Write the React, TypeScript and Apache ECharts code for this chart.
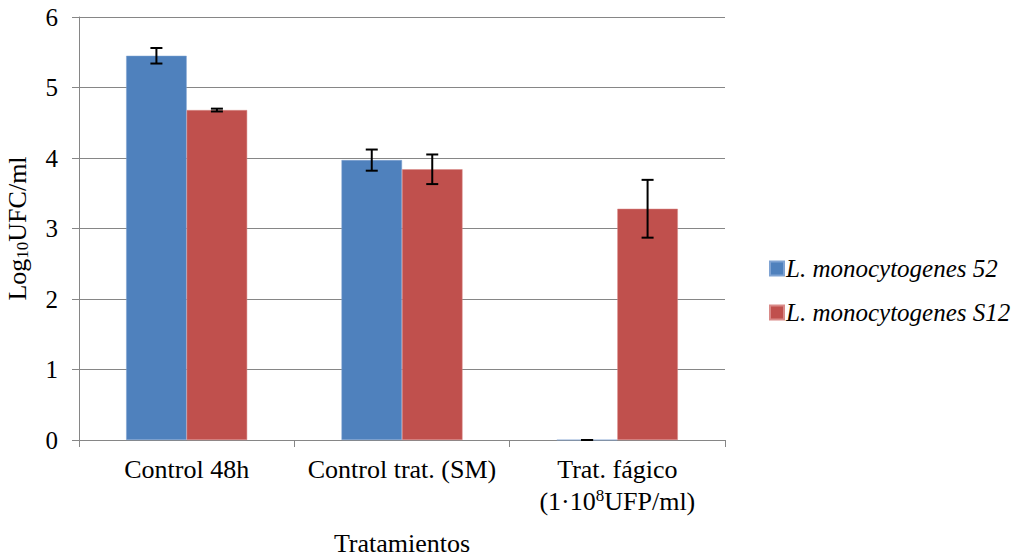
import React, { useEffect, useRef } from "react";
import * as echarts from "echarts";

const categories = ["Control 48h", "Control trat. (SM)", "Trat. fágico\n(1·10{sup|8}UFP/ml)"];
const seriesNames = ["L. monocytogenes 52", "L. monocytogenes S12"];
const values52 = [5.45, 3.97, 0];
const valuesS12 = [4.68, 3.84, 3.28];
const err52 = [0.11, 0.15, 0];
const errS12 = [0.02, 0.21, 0.41];
const colors = ["#4F81BD", "#C0504D"];

const FONT = "Liberation Serif";
const FS = 25;
const BAR_W = 60.5;

export default function App() {
  const ref = useRef<HTMLDivElement>(null);
  useEffect(() => {
    if (!ref.current) return;
    const chart = echarts.init(ref.current, null, { renderer: "svg" });

    const errData = (vals: number[], errs: number[]) =>
      vals.map((v, i) => [i, v - errs[i], v + errs[i]]);

    const makeErr = (vals: number[], errs: number[], offsetSign: number) => ({
      type: "custom",
      name: "err" + offsetSign,
      data: errData(vals, errs),
      z: 10,
      silent: true,
      encode: { x: 0, y: [1, 2] },
      renderItem: (params: any, api: any) => {
        const idx = api.value(0);
        const lo = api.coord([idx, api.value(1)]);
        const hi = api.coord([idx, api.value(2)]);
        const x = lo[0] + (offsetSign * BAR_W) / 2;
        const cap = 6;
        const style = { stroke: "#000", lineWidth: 2 };
        return {
          type: "group",
          children: [
            { type: "line", shape: { x1: x, y1: lo[1], x2: x, y2: hi[1] }, style },
            { type: "line", shape: { x1: x - cap, y1: lo[1], x2: x + cap, y2: lo[1] }, style },
            { type: "line", shape: { x1: x - cap, y1: hi[1], x2: x + cap, y2: hi[1] }, style },
          ],
        };
      },
    });

    chart.setOption({
      animation: false,
      backgroundColor: "#fff",
      textStyle: { fontFamily: FONT, color: "#000" },
      grid: { left: 79, right: 303, top: 17, bottom: 116, containLabel: false, outerBoundsMode: "none" },
      legend: {
        orient: "vertical",
        left: 764,
        top: 251,
        itemGap: 19,
        itemWidth: 14,
        itemHeight: 14,
        icon: "rect",
        data: seriesNames,
        textStyle: { fontFamily: FONT, fontSize: 25, fontStyle: "italic", color: "#000", padding: [0, 0, 0, -3] },
      },
      xAxis: {
        type: "category",
        data: categories,
        name: "Tratamientos",
        nameLocation: "middle",
        nameGap: 90,
        nameTextStyle: { fontFamily: FONT, fontSize: 26, color: "#000" },
        axisLine: { lineStyle: { color: "#868686", width: 1 } },
        axisTick: { show: true, length: 7, lineStyle: { color: "#868686" } },
        axisLabel: {
          margin: 13,
          fontFamily: FONT,
          fontSize: 26,
          color: "#000",
          lineHeight: 32,
          interval: 0,
          rich: {
            sup: { fontSize: 17, lineHeight: 32, padding: [0, 0, 12, 0], fontFamily: FONT, color: "#000" },
          },
        },
      },
      yAxis: {
        type: "value",
        min: 0,
        max: 6,
        interval: 1,
        name: "{a|Log}{s|10}{a|UFC/ml}",
        nameLocation: "middle",
        nameGap: 48,
        nameRotate: 90,
        nameTextStyle: {
          fontFamily: FONT,
          fontSize: 26,
          color: "#000",
          rich: {
            a: { fontFamily: FONT, fontSize: 26, color: "#000" },
            s: { fontFamily: FONT, fontSize: 17, color: "#000", padding: [10, 0, 0, 0] },
          },
        },
        axisLine: { show: true, lineStyle: { color: "#868686", width: 1 } },
        axisTick: { show: true, length: 7, lineStyle: { color: "#868686" } },
        splitLine: { lineStyle: { color: "#868686", width: 1 } },
        axisLabel: { margin: 21, fontFamily: FONT, fontSize: FS, color: "#000" },
      },
      series: [
        {
          type: "bar",
          name: seriesNames[0],
          data: values52,
          barWidth: BAR_W,
          barGap: "0%",
          itemStyle: { color: colors[0], borderColor: "#7FA3D3", borderWidth: 0.5 },
        },
        {
          type: "bar",
          name: seriesNames[1],
          data: valuesS12,
          barWidth: BAR_W,
          barGap: "0%",
          itemStyle: { color: colors[1], borderColor: "#D98A88", borderWidth: 0.5 },
        },
        makeErr(values52, err52, -1),
        makeErr(valuesS12, errS12, 1),
      ],
    });
    return () => chart.dispose();
  }, []);
  return <div ref={ref} style={{ width: 1028, height: 556, position: "absolute", left: 0, top: 0 }} />;
}
